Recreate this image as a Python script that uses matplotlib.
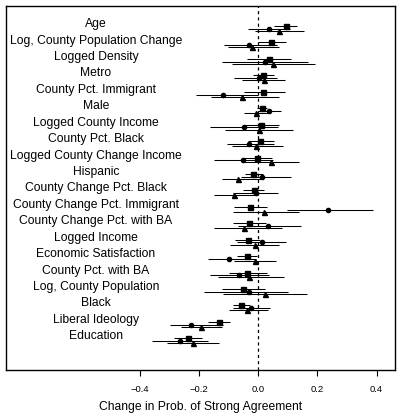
from matplotlib import pyplot as plt
import numpy as np

plt.rcParams['font.family'] = ['Liberation Sans', 'DejaVu Sans']

# nazwy zmiennych (od gory)
zmienne = [
    "Age", "Log, County Population Change", "Logged Density", "Metro",
    "County Pct. Immigrant", "Male", "Logged County Income", "County Pct. Black",
    "Logged County Change Income", "Hispanic", "County Change Pct. Black",
    "County Change Pct. Immigrant", "County Change Pct. with BA", "Logged Income",
    "Economic Satisfaction", "County Pct. with BA", "Log, County Population",
    "Black", "Liberal Ideology", "Education",
]

# model 1 - kwadraty
kw_est = [0.093, 0.043, 0.037, 0.017, 0.017, 0.014, 0.009, 0.007, -0.003, -0.017,
          -0.015, -0.027, -0.030, -0.034, -0.037, -0.039, -0.051, -0.058, -0.132, -0.237]
kw_lo = [0.054, 0.000, -0.037, -0.019, -0.047, -0.004, -0.047, -0.034, -0.053, -0.045,
         -0.053, -0.081, -0.085, -0.079, -0.073, -0.098, -0.124, -0.085, -0.169, -0.285]
kw_hi = [0.130, 0.094, 0.110, 0.054, 0.090, 0.030, 0.071, 0.053, 0.045, 0.017,
         0.019, 0.030, 0.026, 0.006, -0.003, 0.030, 0.023, -0.028, -0.096, -0.189]

# model 2 - kola
ko_est = [0.036, -0.031, 0.022, 0.003, -0.120, 0.036, -0.047, -0.031, -0.051, 0.014,
          -0.008, 0.235, 0.034, 0.011, -0.098, -0.065, -0.031, -0.026, -0.228, -0.265]
ko_lo = [-0.034, -0.115, -0.122, -0.081, -0.212, 0.000, -0.163, -0.107, -0.149, -0.058,
         -0.085, 0.096, -0.068, -0.073, -0.169, -0.163, -0.184, -0.085, -0.299, -0.358]
ko_hi = [0.107, 0.062, 0.167, 0.062, -0.002, 0.077, 0.068, 0.054, 0.051, 0.111,
         0.066, 0.389, 0.143, 0.094, -0.008, 0.037, 0.101, 0.040, -0.120, -0.169]

# model 3 - trojkaty
tr_est = [0.069, -0.020, 0.051, 0.019, -0.056, -0.007, 0.002, -0.008, 0.043, -0.068,
          -0.081, 0.020, -0.049, -0.010, -0.011, -0.030, 0.023, -0.039, -0.194, -0.220]
tr_lo = [-0.011, -0.101, -0.090, -0.056, -0.161, -0.047, -0.113, -0.090, -0.053, -0.122,
         -0.150, -0.085, -0.149, -0.096, -0.082, -0.135, -0.120, -0.098, -0.261, -0.310]
tr_hi = [0.154, 0.070, 0.190, 0.090, 0.070, 0.034, 0.118, 0.082, 0.139, 0.015,
         -0.005, 0.138, 0.080, 0.071, 0.059, 0.088, 0.164, 0.034, -0.124, -0.132]

fig = plt.figure(figsize=(4.01, 4.18), dpi=100, facecolor="white")
ax = fig.add_axes([6/401, 1 - 370/418, 389/401, 364/418])

y = np.arange(len(zmienne))
serie = [
    (kw_est, kw_lo, kw_hi, "s", 3.6, 0.0),
    (ko_est, ko_lo, ko_hi, "o", 3.0, 0.17),
    (tr_est, tr_lo, tr_hi, "^", 3.6, 0.30),
]
for est, lo, hi, znak, rozmiar, przes in serie:
    ax.hlines(y + przes, lo, hi, colors="black", linewidth=0.75)
    ax.plot(est, y + przes, znak, color="black", markersize=rozmiar, linestyle="none")

# opisy zmiennych wewnatrz wykresu
for i, nazwa in enumerate(zmienne):
    ax.text(-0.549, i - 0.12, nazwa, ha="center", va="center", fontsize=8.7)

ax.axvline(0, color="black", linestyle=(0, (2.5, 2.5)), linewidth=0.9)
ax.set_xlim(-0.853, 0.462)
ax.set_ylim(20.93, -1.22)
ax.set_yticks([])
ax.set_xticks([-0.4, -0.2, 0.0, 0.2, 0.4])
ax.set_xticklabels(["\u22120.4", "\u22120.2", "0.0", "0.2", "0.4"])
ax.tick_params(axis="x", labelsize=6.8, length=4, width=0.8, pad=7)
for s in ax.spines.values():
    s.set_linewidth(1.0)
ax.set_xlabel("Change in Prob. of Strong Agreement", fontsize=8.7, labelpad=5)

fig.savefig("out.png", dpi=100)
